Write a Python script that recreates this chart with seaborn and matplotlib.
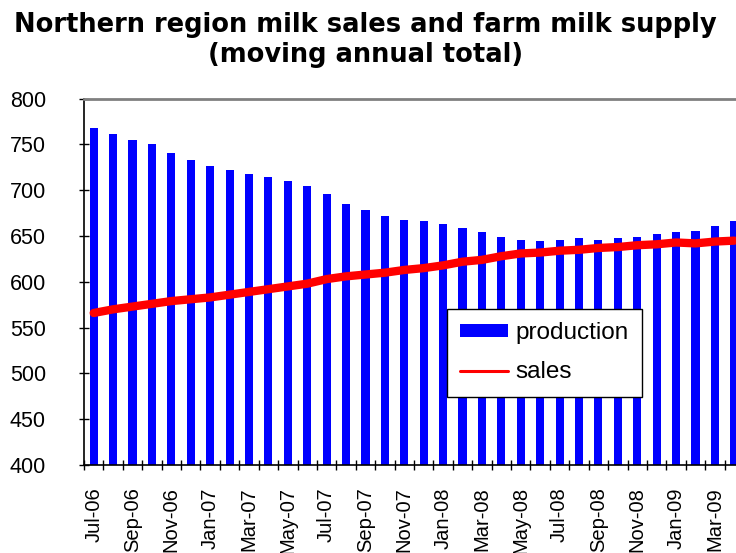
import numpy as np
import pandas as pd
import matplotlib
matplotlib.use("Agg")
import matplotlib.pyplot as plt
import seaborn as sns
from matplotlib.patches import Patch
from matplotlib.lines import Line2D
from matplotlib.ticker import FixedLocator, FixedFormatter

months = ["Jul-06", "Aug-06", "Sep-06", "Oct-06", "Nov-06", "Dec-06",
          "Jan-07", "Feb-07", "Mar-07", "Apr-07", "May-07", "Jun-07",
          "Jul-07", "Aug-07", "Sep-07", "Oct-07", "Nov-07", "Dec-07",
          "Jan-08", "Feb-08", "Mar-08", "Apr-08", "May-08", "Jun-08",
          "Jul-08", "Aug-08", "Sep-08", "Oct-08", "Nov-08", "Dec-08",
          "Jan-09", "Feb-09", "Mar-09", "Apr-09"]
production = [768, 761, 755, 750, 741, 733, 727, 722, 718, 714, 710, 705,
              696, 685, 679, 672, 667, 666, 663, 659, 654, 649, 646, 645,
              646, 648, 646, 648, 649, 652, 654, 655, 661, 666]
sales = [566, 570, 573, 576, 579, 581, 583, 586, 589, 592, 595, 598,
         603, 606, 608, 610, 613, 615, 618, 622, 624, 628, 631, 632,
         634, 635, 637, 638, 640, 641, 643, 642, 644, 645]
yticks = [400, 450, 500, 550, 600, 650, 700, 750, 800]

sns.set_theme(style="white")
plt.rcParams['font.family'] = ['Liberation Sans', 'DejaVu Sans']
plt.rcParams['text.color'] = 'black'
plt.rcParams['xtick.color'] = 'black'
plt.rcParams['ytick.color'] = 'black'
plt.rcParams['axes.labelcolor'] = 'black'

df = pd.DataFrame({"month": months, "production": production, "sales": sales})
n = len(months)

fig = plt.figure(figsize=(7.36, 5.53), dpi=100)
ax = fig.add_axes([84 / 736, 88 / 553, 660 / 736, 366.3 / 553])

sns.barplot(data=df, x="month", y="production", color="#0000FF", saturation=1,
            width=0.42, linewidth=0, ax=ax)
sns.lineplot(x=np.arange(n), y=df["sales"], color="#FF0000", linewidth=6,
             ax=ax, legend=False, sort=False)

ax.set_xlim(-0.5, n - 0.5)
ax.set_ylim(400, 800)
ax.set_yticks(yticks)
ax.set_yticklabels([str(v) for v in yticks], fontsize=15.5)
ax.set_xlabel("")
ax.set_ylabel("")

ax.xaxis.set_major_locator(FixedLocator(list(range(0, n, 2))))
ax.xaxis.set_major_formatter(FixedFormatter(months[::2]))
ax.xaxis.set_minor_locator(FixedLocator(list(np.arange(-0.5, n, 1.0))))
ax.tick_params(axis="x", which="major", length=0, pad=16, labelsize=14.5,
               labelrotation=90, colors="black")
ax.tick_params(axis="x", which="minor", length=7, width=1, direction="inout",
               color="black", bottom=True)
ax.tick_params(axis="y", which="major", length=7, width=1, direction="inout",
               left=True, pad=24, colors="black")
for lab in ax.get_xticklabels():
    lab.set_verticalalignment("top")

ax.spines["left"].set_color("black")
ax.spines["left"].set_linewidth(1.2)
ax.spines["bottom"].set_color("black")
ax.spines["bottom"].set_linewidth(1.2)
ax.spines["top"].set_color("#808080")
ax.spines["top"].set_linewidth(2)
ax.spines["right"].set_visible(False)

handles = [Patch(facecolor="#0000FF", edgecolor="none", label="production"),
           Line2D([0], [0], color="#FF0000", linewidth=2.2, label="sales")]
leg = ax.legend(handles=handles, loc="upper left",
                bbox_to_anchor=(447 / 736, 1 - 309 / 553),
                bbox_transform=fig.transFigure, fontsize=17.5, frameon=True,
                fancybox=False, handlelength=1.95, handleheight=0.42,
                labelspacing=0.7, borderpad=0.55, handletextpad=0.3,
                borderaxespad=0)
leg.get_frame().set_edgecolor("black")
leg.get_frame().set_linewidth(1)
leg.get_frame().set_facecolor("white")
leg.get_frame().set_alpha(1)
for t in leg.get_texts():
    t.set_color("black")

fig.text(0.497, 0.978,
         "Northern region milk sales and farm milk supply\n(moving annual total)",
         ha="center", va="top", fontsize=18.5, fontweight="bold",
         family=["DejaVu Sans"], linespacing=1.2, color="black")

fig.savefig("out.png", dpi=100)
